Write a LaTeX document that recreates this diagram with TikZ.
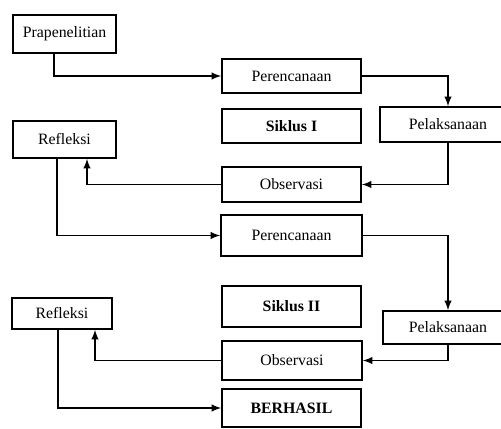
\documentclass[tikz,border=0pt]{standalone}
\usepackage{fontspec}
\setmainfont{Liberation Serif}
\begin{document}
\begin{tikzpicture}[
        x = 0.02cm, y = -0.02cm, >=latex, line width=0.9pt,
        every node/.style = {draw, font=\fontsize{9}{11}\selectfont, inner sep=0pt},
        tebal/.style = {font=\fontsize{9}{11}\selectfont\bfseries}
        ]
        \useasboundingbox (0,0) rectangle (501,429);
        % siklus I
        \node (pra) [minimum width=2.06cm, minimum height=0.76cm] at (64.5,34) {Prapenelitian};
        \node (per1) [minimum width=2.78cm, minimum height=0.68cm] at (291.5,76) {Perencanaan};
        \node (sik1) [tebal, minimum width=2.78cm, minimum height=0.68cm] at (291.5,126) {Siklus I};
        \node (pel1) [minimum width=2.72cm, minimum height=0.70cm] at (448,124.5) {Pelaksanaan};
        \node (obs1) [minimum width=2.78cm, minimum height=0.70cm] at (291.5,184.5) {Observasi};
        \node (ref1) [minimum width=2.06cm, minimum height=0.74cm] at (64.5,139.5) {Refleksi};
        % siklus II
        \node (per2) [minimum width=2.82cm, minimum height=0.82cm] at (291.5,235.5) {Perencanaan};
        \node (sik2) [tebal, minimum width=2.78cm, minimum height=0.82cm] at (291.5,306.5) {Siklus II};
        \node (pel2) [minimum width=2.60cm, minimum height=0.66cm] at (448,327.5) {Pelaksanaan};
        \node (obs2) [minimum width=2.80cm, minimum height=0.78cm] at (292,360.5) {Observasi};
        \node (ref2) [minimum width=2.00cm, minimum height=0.62cm] at (62,313.5) {Refleksi};
        \node (ber) [tebal, minimum width=2.78cm, minimum height=0.76cm] at (291.5,408) {BERHASIL};
        \draw[->] ([xshift=-0.21cm]pra.south) |- (per1.west);
        \draw[->] (per1.east) -| (pel1.north);
        \draw[->] (pel1.south) |- (obs1.east);
        \draw[->] (obs1.west) -| ([xshift=0.45cm]ref1.south);
        \draw[->] ([xshift=-0.15cm]ref1.south) |- (per2.west);
        \draw[->] (per2.east) -| (pel2.north);
        \draw[->] (pel2.south) |- (obs2.east);
        \draw[->] (obs2.west) -| ([xshift=0.66cm]ref2.south);
        \draw[->] ([xshift=-0.08cm]ref2.south) |- (ber.west);
\end{tikzpicture}
\end{document}
